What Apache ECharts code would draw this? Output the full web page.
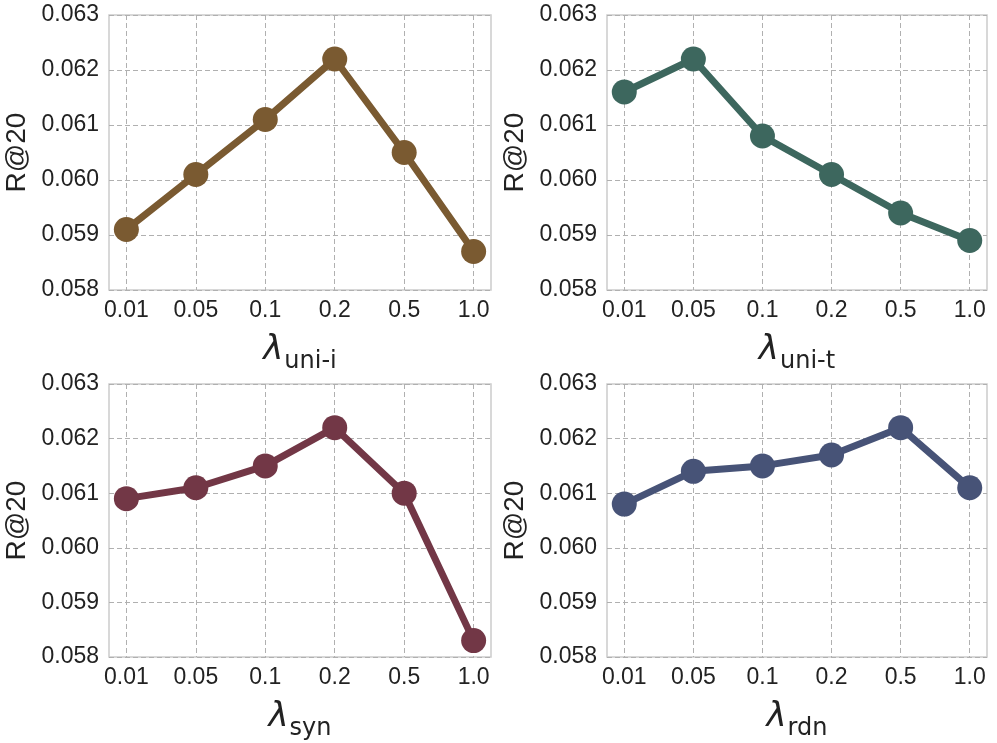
<!DOCTYPE html>
<html>
<head>
<meta charset="utf-8">
<script src="https://cdn.jsdelivr.net/npm/echarts@6/dist/echarts.min.js"></script>
<style>html,body{margin:0;padding:0;background:#fff}#c{width:997px;height:743px}</style>
</head>
<body>
<div id="c"></div>
<script>
const categories = ['0.01', '0.05', '0.1', '0.2', '0.5', '1.0'];
const yTicks = [0.058, 0.059, 0.060, 0.061, 0.062, 0.063];
const uniI = [0.0591, 0.0601, 0.0611, 0.0622, 0.0605, 0.0587];
const uniT = [0.0616, 0.0622, 0.0608, 0.0601, 0.0594, 0.0589];
const syn  = [0.0609, 0.0611, 0.0615, 0.0622, 0.0610, 0.0583];
const rdn  = [0.0608, 0.0614, 0.0615, 0.0617, 0.0622, 0.0611];
const subs = ['uni-i', 'uni-t', 'syn', 'rdn'];
const seriesData = [uniI, uniT, syn, rdn];
const colors = ['#7a5a31', '#3d675e', '#723746', '#475377'];

const grids = [
  {left: 109, top: 15, width: 382, height: 275},
  {left: 607, top: 15, width: 380, height: 275},
  {left: 109, top: 384, width: 382, height: 273},
  {left: 607, top: 384, width: 380, height: 273}
];
const textColor = '#222222';
const font = 'Liberation Sans, Arial, sans-serif';
const idx = categories.map((c, i) => i);

const option = {
  backgroundColor: '#fff',
  animation: false,
  grid: grids.map(g => Object.assign({show: true, borderColor: '#cccccc', borderWidth: 1.5, backgroundColor: '#fff', containLabel: false}, g)),
  xAxis: grids.map((g, i) => ({
    type: 'value', gridIndex: i, min: -0.25, max: 5.25,
    axisLine: {show: false},
    axisTick: {show: false, customValues: idx},
    axisLabel: {customValues: idx, formatter: v => categories[Math.round(v)], color: textColor, fontSize: 23, fontFamily: font, margin: 9},
    splitLine: {show: true, lineStyle: {color: '#b0b0b0', type: [5, 3], width: 1}},
    name: '{lam|λ}{sub|' + subs[i] + '}',
    nameLocation: 'middle', nameGap: 44,
    nameTextStyle: {
      rich: {
        lam: {fontSize: 34, fontFamily: 'DejaVu Sans', fontStyle: 'italic', color: textColor, verticalAlign: 'bottom', lineHeight: 40, padding: [0, 1, 7, 0]},
        sub: {fontSize: 24, fontFamily: 'DejaVu Sans', color: textColor, verticalAlign: 'bottom', lineHeight: 30}
      }
    }
  })),
  yAxis: grids.map((g, i) => ({
    type: 'value', gridIndex: i, min: 0.058, max: 0.063, interval: 0.001,
    axisLine: {show: false}, axisTick: {show: false},
    axisLabel: {formatter: v => v.toFixed(3), color: textColor, fontSize: 23, fontFamily: font, margin: 10},
    splitLine: {show: true, lineStyle: {color: '#b0b0b0', type: [5, 3], width: 1}},
    name: 'R@20', nameLocation: 'middle', nameGap: 78,
    nameTextStyle: {fontSize: 28, fontFamily: font, color: textColor}
  })),
  series: seriesData.map((d, i) => ({
    type: 'line', xAxisIndex: i, yAxisIndex: i,
    data: d.map((v, j) => [idx[j], v]),
    symbol: 'circle', symbolSize: 25,
    lineStyle: {color: colors[i], width: 7},
    itemStyle: {color: colors[i]},
    clip: false
  }))
};
const chart = echarts.init(document.getElementById('c'));
chart.setOption(option);
</script>
</body>
</html>
